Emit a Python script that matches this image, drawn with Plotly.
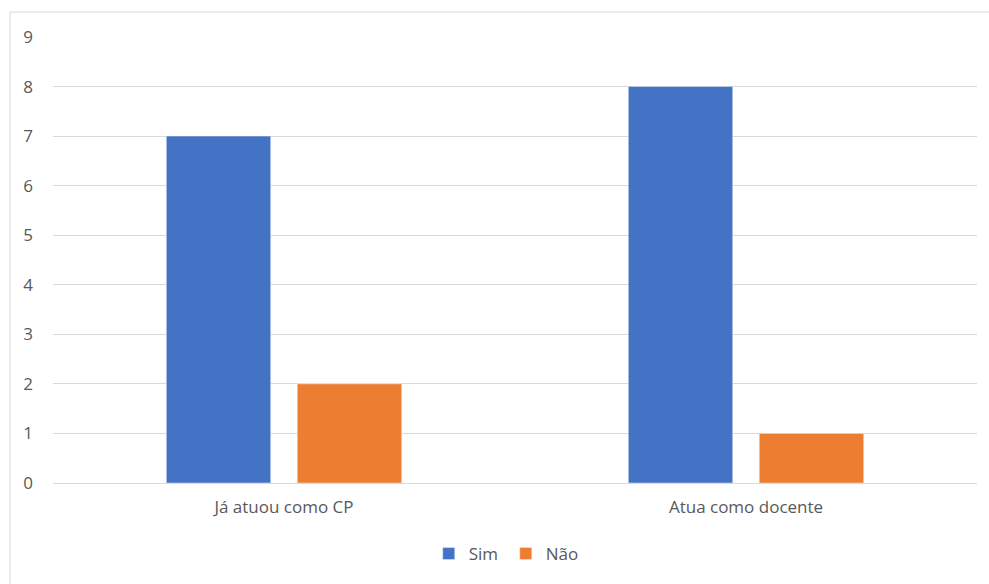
import plotly.graph_objects as go

categories = ["Já atuou como CP", "Atua como docente"]
sim_values = [7, 8]
nao_values = [2, 1]
series_names = ["Sim", "Não"]
y_ticks = list(range(0, 10))

L, R, T, B = 53, 12, 37, 101
W, H = 989, 584
pw, ph = W - L - R, H - T - B

def px(x):
    return (x - L) / pw

def py(y):
    return (H - B - y) / ph

fig = go.Figure()
fig.add_trace(go.Bar(name=series_names[0], x=categories, y=sim_values, marker_color="#4472C4"))
fig.add_trace(go.Bar(name=series_names[1], x=categories, y=nao_values, marker_color="#ED7D31"))

fig.update_layout(
    width=W, height=H,
    margin=dict(l=L, r=R, t=T, b=B),
    paper_bgcolor="white", plot_bgcolor="white",
    barmode="group", bargap=0.433, bargroupgap=0.203,
    font=dict(family="Open Sans", size=17, color="#595959"),
    showlegend=True,
    legend=dict(orientation="h", x=0.49, xanchor="center", y=py(554), yanchor="middle",
                font=dict(size=17, color="#595959"), itemwidth=30, tracegroupgap=0,
                entrywidth=32, entrywidthmode="pixels"),
    xaxis=dict(showgrid=False, showline=True, linecolor="#D9D9D9", linewidth=1,
               ticks="", tickfont=dict(size=17, color="#595959"), ticklabelstandoff=9),
    yaxis=dict(range=[0, 9], tickvals=y_ticks, showgrid=True, gridcolor="#D9D9D9",
               gridwidth=1, zeroline=False, showline=False, ticks="",
               tickfont=dict(size=17, color="#595959"), ticklabelstandoff=19),
    shapes=[
        dict(type="line", xref="paper", yref="paper", x0=px(10), x1=px(10), y0=py(584), y1=py(12),
             line=dict(color="#D9D9D9", width=1)),
        dict(type="line", xref="paper", yref="paper", x0=px(10), x1=px(989), y0=py(12), y1=py(12),
             line=dict(color="#D9D9D9", width=1)),
    ],
)

fig.write_html("out.html")
